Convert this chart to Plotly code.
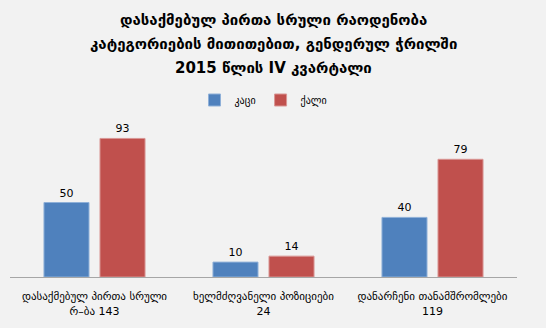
import plotly.graph_objects as go

# Chart data
categories = [
    "დასაქმებულ პირთა სრული<br>რ–ბა 143",
    "ხელმძღვანელი პოზიციები<br>24",
    "დანარჩენი თანამშრომლები<br>119",
]
men = [50, 10, 40]
women = [93, 14, 79]
series_names = ["კაცი", "ქალი"]
title_lines = [
    "დასაქმებულ პირთა სრული რაოდენობა",
    "კატეგორიების მითითებით, გენდერულ ჭრილში",
    "2015 წლის IV კვარტალი",
]

FONT = "DejaVu Sans"
BLUE = "#4F81BD"
RED = "#C0504D"

fig = go.Figure()
fig.add_trace(go.Bar(
    x=categories, y=men, name=series_names[0],
    marker=dict(color=BLUE, line=dict(color="#8FB0D8", width=1)),
    text=men, textposition="outside", cliponaxis=False,
    textfont=dict(family=FONT, size=11, color="#000000"),
))
fig.add_trace(go.Bar(
    x=categories, y=women, name=series_names[1],
    marker=dict(color=RED, line=dict(color="#D99694", width=1)),
    text=women, textposition="outside", cliponaxis=False,
    textfont=dict(family=FONT, size=11, color="#000000"),
))

# Title lines placed individually for even spacing
plot_top, plot_bottom = 128, 277
ph = plot_bottom - plot_top
for line, ypx in zip(title_lines, [20, 44, 68]):
    fig.add_annotation(
        text=f"<b>{line}</b>", xref="paper", yref="paper",
        x=(273 - 10) / 507, y=(plot_bottom - ypx) / ph,
        xanchor="center", yanchor="middle", showarrow=False,
        font=dict(family=FONT, size=15, color="#000000"),
    )

fig.update_layout(
    width=546, height=328,
    paper_bgcolor="#F2F2F2", plot_bgcolor="#F2F2F2",
    margin=dict(l=10, r=29, t=plot_top, b=328 - plot_bottom),
    barmode="group", bargap=0.337, bargroupgap=0.196,
    showlegend=True,
    legend=dict(
        orientation="h", x=0.5, xanchor="center",
        y=1 + 28 / ph, yanchor="middle",
        font=dict(family=FONT, size=10, color="#000000"),
        bgcolor="rgba(0,0,0,0)", itemwidth=30,
    ),
    font=dict(family=FONT, color="#000000"),
)
fig.update_xaxes(
    showline=True, linecolor="#A6A6A6", linewidth=1,
    ticks="", ticklabelstandoff=9,
    tickfont=dict(family=FONT, size=11, color="#000000"),
)
fig.update_yaxes(
    range=[0, 100], visible=False, showgrid=False, zeroline=False,
)

fig.write_html("out.html")
